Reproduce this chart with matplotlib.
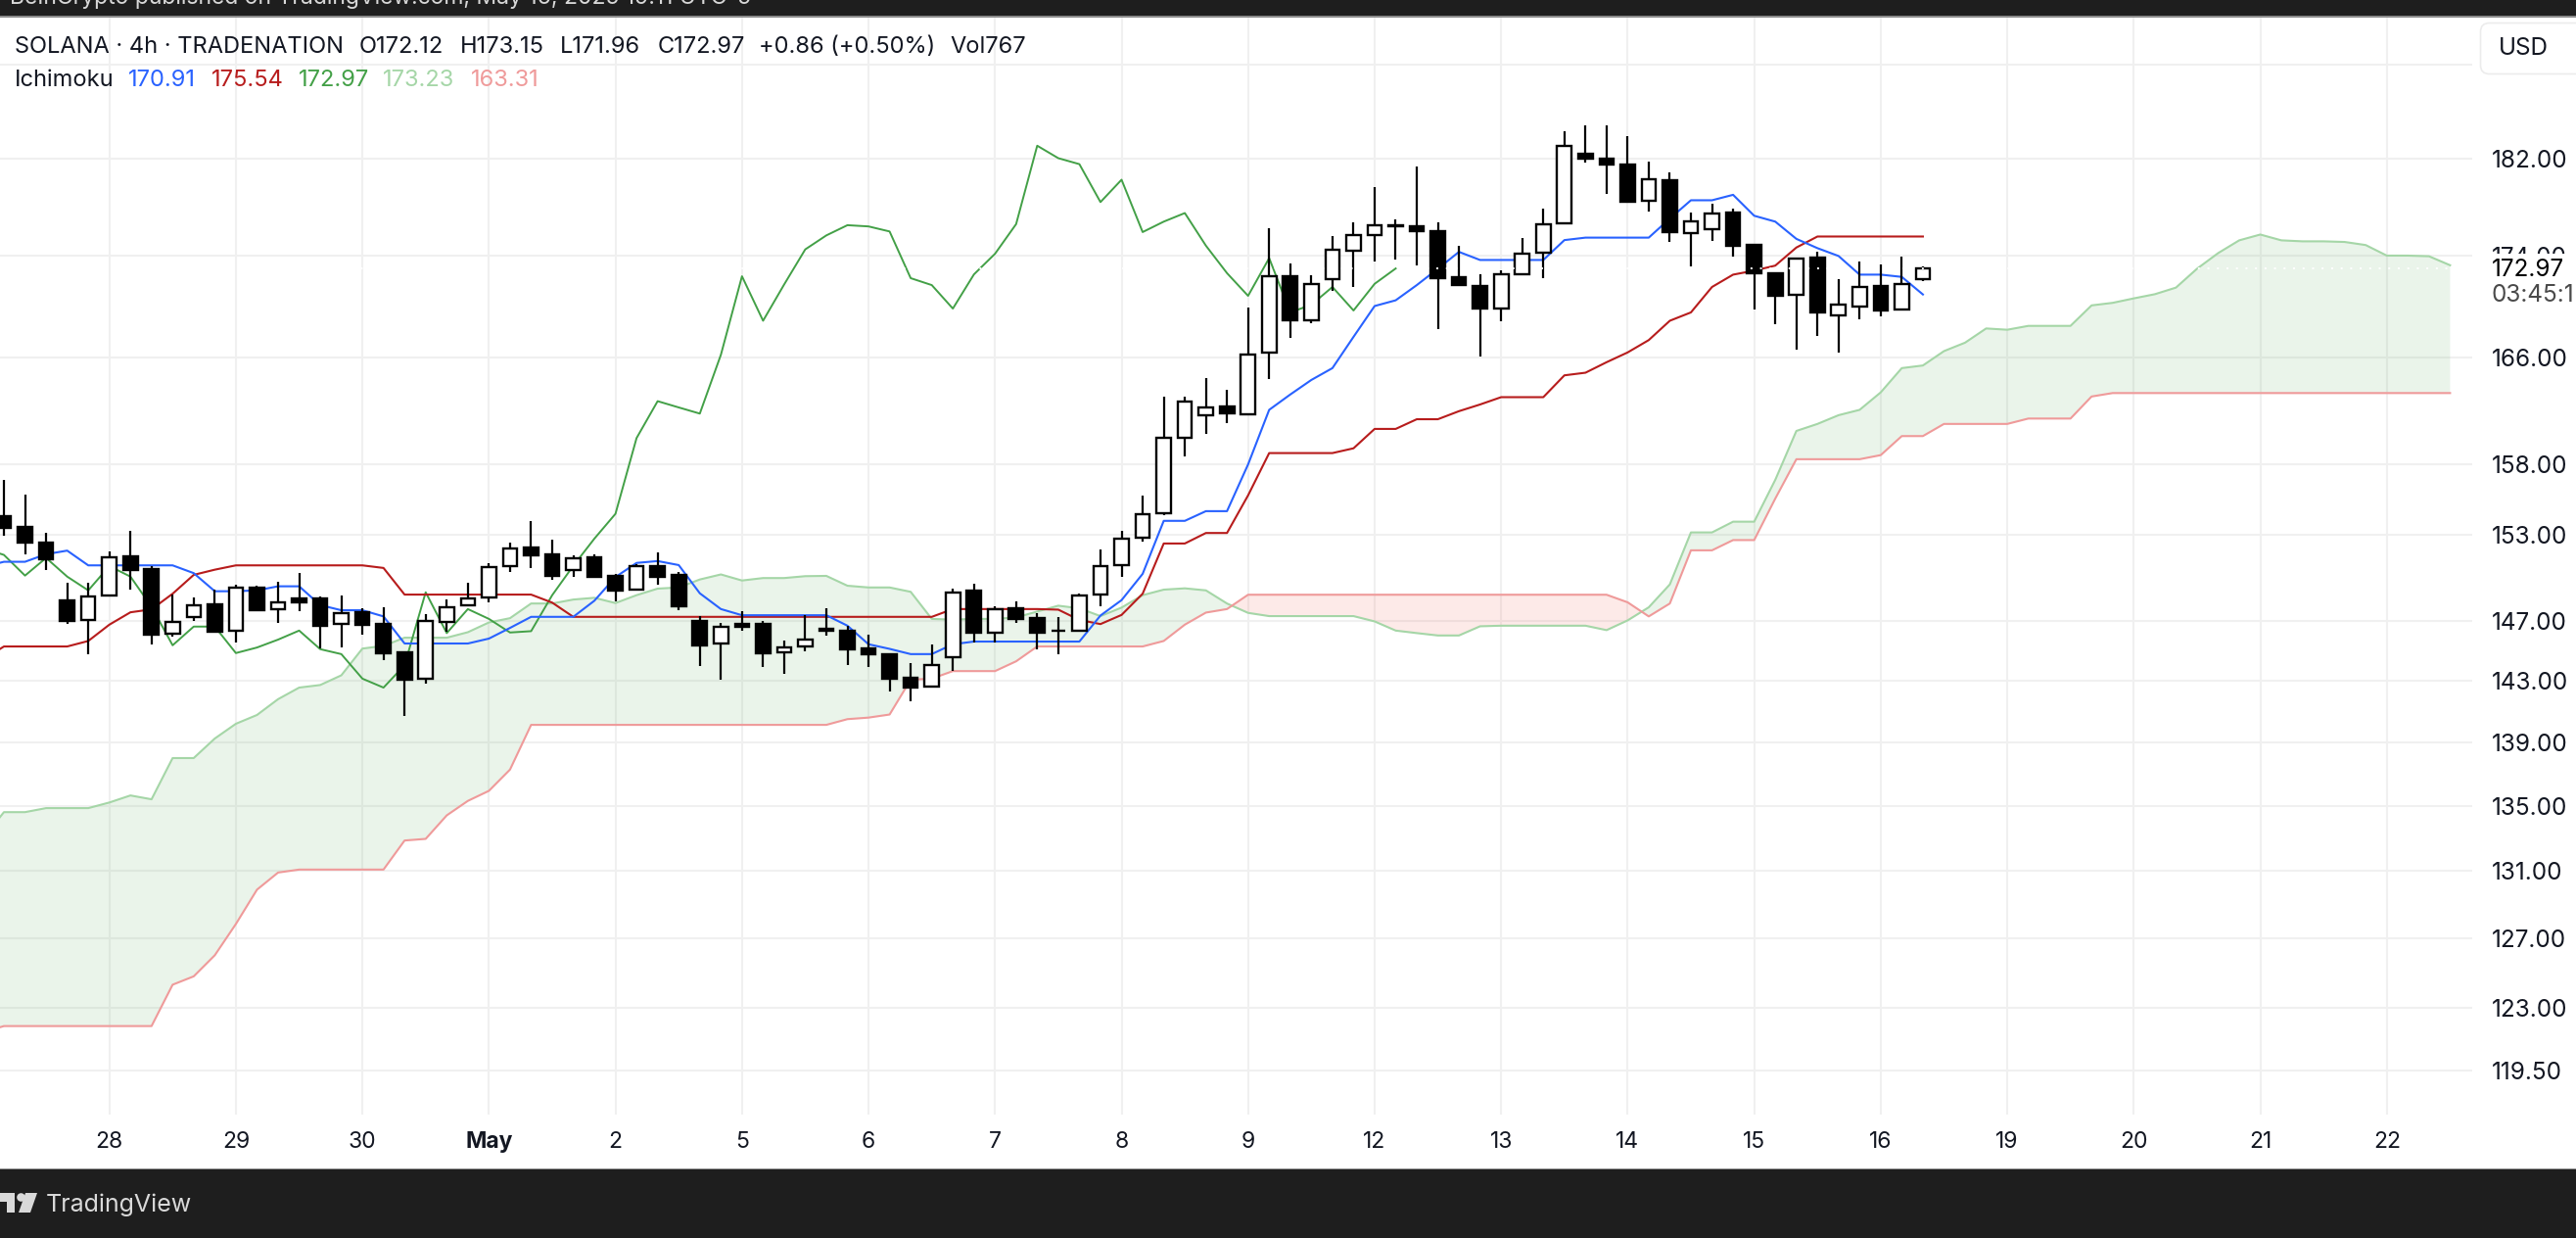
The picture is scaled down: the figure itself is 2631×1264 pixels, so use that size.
import numpy as np
import matplotlib
matplotlib.use("Agg")
import matplotlib.pyplot as plt
from matplotlib.patches import Rectangle, Polygon, Circle, FancyBboxPatch

plt.rcParams['font.family'] = ['Inter', 'DejaVu Sans']

# --- candles, first bar sits 5 bars left of the "28" label ---
opens = [154.31, 153.52, 152.41, 148.39, 147.05, 148.75, 151.45, 150.58, 146.12, 147.25, 148.12, 146.34, 149.27,
         147.78, 148.52, 148.52, 146.80, 147.60, 146.80, 144.87, 143.17, 146.94, 148.05, 148.59, 150.78, 152.07,
         151.59, 150.49, 151.38, 150.08, 149.15, 150.75, 150.17, 146.98, 145.48, 146.80, 146.80, 144.89, 145.29,
         146.45, 146.32, 145.13, 144.74, 143.20, 142.61, 144.56, 149.06, 146.21, 147.85, 147.18, 146.36, 146.32,
         148.81, 150.85, 152.80, 154.53, 160.00, 161.65, 162.28, 161.75, 166.35, 172.38, 168.90, 172.10, 174.43,
         175.69, 176.46, 176.34, 175.95, 172.30, 171.60, 169.80, 172.55, 174.20, 176.60, 182.35, 182.00, 181.50,
         178.45, 180.15, 175.85, 176.15, 177.50, 174.85, 172.60, 170.85, 173.85, 169.30, 169.95, 171.55, 169.75,
         172.12]
highs = [156.89, 155.83, 153.10, 149.61, 149.61, 151.79, 153.26, 150.80, 148.81, 148.59, 149.13, 149.47, 149.42,
         149.68, 150.29, 148.65, 148.73, 147.85, 147.94, 144.91, 147.47, 148.45, 149.61, 150.97, 152.41, 153.93,
         152.64, 151.52, 151.59, 150.22, 150.90, 151.73, 150.35, 147.32, 146.85, 147.65, 146.98, 145.66, 147.38,
         147.85, 146.65, 146.07, 144.74, 144.15, 145.40, 149.22, 149.54, 147.98, 148.33, 147.54, 147.25, 148.87,
         151.93, 153.24, 155.78, 163.04, 163.04, 164.47, 163.58, 169.90, 176.20, 173.35, 172.40, 175.55, 176.66,
         179.60, 176.95, 181.30, 176.70, 174.80, 172.55, 172.85, 175.45, 177.80, 184.30, 184.75, 184.75, 183.85,
         181.75, 180.85, 177.50, 178.20, 177.80, 174.90, 172.70, 173.80, 174.35, 172.10, 173.50, 173.30, 173.95,
         173.15]
lows = [152.92, 151.61, 150.53, 146.83, 144.78, 148.75, 149.17, 145.44, 145.95, 146.98, 146.21, 145.57, 147.69,
        146.89, 147.69, 145.15, 145.22, 146.10, 144.39, 140.73, 142.82, 146.28, 148.05, 148.30, 150.39, 150.67,
        149.85, 150.05, 150.05, 148.36, 149.15, 149.50, 147.76, 144.00, 143.05, 146.36, 143.91, 143.47, 144.98,
        146.03, 144.06, 143.93, 142.31, 141.67, 142.61, 143.67, 145.57, 145.57, 146.89, 145.11, 144.78, 146.32,
        148.02, 150.05, 152.52, 154.38, 158.57, 160.23, 161.03, 161.75, 164.35, 167.50, 168.65, 171.20, 171.47,
        173.50, 173.70, 173.20, 168.20, 171.60, 166.10, 168.80, 172.40, 172.20, 176.60, 181.65, 179.05, 178.35,
        177.60, 175.10, 173.10, 175.15, 173.95, 169.70, 168.60, 166.65, 167.70, 166.40, 169.00, 169.20, 169.75,
        171.96]
closes = [153.47, 152.45, 151.26, 147.03, 148.70, 151.42, 150.53, 146.10, 146.96, 148.09, 146.28, 149.31, 147.74,
          148.30, 148.30, 146.69, 147.56, 146.76, 144.85, 143.08, 147.03, 147.96, 148.56, 150.74, 152.04, 151.56,
          150.12, 151.35, 150.05, 149.10, 150.78, 150.05, 147.98, 145.37, 146.63, 146.63, 144.85, 145.22, 145.75,
          146.36, 145.11, 144.78, 143.15, 142.56, 144.04, 148.97, 146.19, 147.82, 147.15, 146.23, 146.32, 148.77,
          150.80, 152.70, 154.46, 159.95, 162.70, 162.23, 161.77, 166.22, 172.35, 168.85, 171.70, 174.50, 175.63,
          176.46, 176.36, 175.95, 172.20, 171.65, 169.80, 172.50, 174.15, 176.55, 183.05, 182.00, 181.50, 178.35,
          180.20, 175.90, 176.75, 177.45, 174.80, 172.60, 170.80, 173.80, 169.50, 170.10, 171.50, 169.65, 171.75,
          172.97]

# --- ichimoku, all of them start one bar before the candles ---
conversion = [150.71, 151.08, 151.08, 151.61, 151.86, 150.83, 150.83, 150.83, 150.83, 150.83, 150.29, 149.04, 149.04,
              149.10, 149.38, 149.38, 148.09, 147.74, 147.74, 147.32, 145.49, 145.49, 145.49, 145.49, 145.82, 146.54,
              147.29, 147.29, 147.29, 148.39, 150.02, 151.00, 151.13, 150.85, 148.90, 147.82, 147.40, 147.40, 147.40,
              147.40, 147.40, 146.69, 145.44, 145.13, 144.78, 144.78, 145.44, 145.62, 145.62, 145.62, 145.62, 145.62,
              145.62, 147.38, 148.43, 150.24, 153.96, 153.96, 154.65, 154.65, 158.02, 162.05, 163.20, 164.30, 165.20,
              167.60, 170.00, 170.45, 171.65, 172.95, 174.30, 173.65, 173.65, 173.65, 173.65, 175.25, 175.45, 175.45,
              175.45, 175.45, 177.00, 178.50, 178.50, 178.95, 177.23, 176.75, 175.35, 174.60, 173.97, 172.48, 172.48,
              172.30, 170.91]
base = [144.40, 145.29, 145.29, 145.29, 145.29, 145.66, 146.76, 147.60, 147.80, 148.87, 150.17, 150.53, 150.83,
        150.83, 150.83, 150.83, 150.83, 150.83, 150.83, 150.65, 148.81, 148.81, 148.81, 148.81, 148.81, 148.81,
        148.81, 148.26, 147.29, 147.29, 147.29, 147.29, 147.29, 147.29, 147.29, 147.29, 147.29, 147.29, 147.29,
        147.29, 147.29, 147.29, 147.29, 147.29, 147.29, 147.29, 147.82, 147.82, 147.82, 147.82, 147.82, 147.78,
        147.08, 146.80, 147.42, 148.87, 152.36, 152.36, 153.10, 153.10, 155.78, 158.85, 158.85, 158.85, 158.85,
        159.20, 160.63, 160.63, 161.35, 161.35, 161.95, 162.45, 163.00, 163.00, 163.00, 164.65, 164.85, 165.65,
        166.40, 167.35, 168.85, 169.50, 171.50, 172.48, 172.80, 173.20, 174.65, 175.54, 175.54, 175.54, 175.54,
        175.54, 175.54]
lagging = [152.04, 151.56, 150.12, 151.35, 150.05, 149.10, 150.78, 150.05, 147.98, 145.37, 146.63, 146.63, 144.85,
           145.22, 145.75, 146.36, 145.11, 144.78, 143.15, 142.56, 144.04, 148.97, 146.19, 147.82, 147.15, 146.23,
           146.32, 148.77, 150.80, 152.70, 154.46, 159.95, 162.70, 162.23, 161.77, 166.22, 172.35, 168.85, 171.70,
           174.50, 175.63, 176.46, 176.36, 175.95, 172.20, 171.65, 169.80, 172.50, 174.15, 176.55, 183.05, 182.00,
           181.50, 178.35, 180.20, 175.90, 176.75, 177.45, 174.80, 172.60, 170.80, 173.80, 169.50, 170.10, 171.50,
           169.65, 171.75, 172.97]
span_a = [132.97, 134.60, 134.60, 134.85, 134.85, 134.85, 135.20, 135.64, 135.40, 138.00, 138.00, 139.25, 140.20,
          140.77, 141.80, 142.56, 142.73, 143.37, 145.15, 145.33, 145.88, 145.88, 145.88, 146.25, 146.91, 147.20,
          148.20, 148.20, 148.47, 148.59, 148.23, 148.77, 149.22, 149.30, 149.85, 150.20, 149.78, 149.95, 149.95,
          150.08, 150.10, 149.42, 149.30, 149.30, 149.00, 147.15, 147.10, 147.15, 147.15, 147.25, 147.65, 148.05,
          147.87, 147.34, 147.92, 148.77, 149.15, 149.24, 149.10, 148.20, 147.56, 147.34, 147.34, 147.34, 147.34,
          147.34, 146.98, 146.36, 146.19, 146.03, 146.03, 146.65, 146.69, 146.69, 146.69, 146.69, 146.69, 146.39,
          147.05, 147.94, 149.51, 153.14, 153.14, 153.90, 153.90, 156.90, 160.48, 161.00, 161.65, 162.05, 163.36,
          165.20, 165.40, 166.50, 167.15, 168.25, 168.15, 168.45, 168.45, 168.45, 170.05, 170.25, 170.60, 170.93,
          171.45, 172.95, 174.20, 175.23, 175.70, 175.23, 175.15, 175.15, 175.10, 174.85, 174.00, 174.00, 173.95,
          173.23]
span_b = [121.60, 121.95, 121.95, 121.95, 121.95, 121.95, 121.95, 121.95, 121.95, 124.30, 124.78, 126.00, 127.83,
          129.87, 130.90, 131.08, 131.08, 131.08, 131.08, 131.08, 132.85, 132.95, 134.40, 135.30, 135.93, 137.27,
          140.13, 140.13, 140.13, 140.13, 140.13, 140.13, 140.13, 140.13, 140.13, 140.13, 140.13, 140.13, 140.13,
          140.13, 140.13, 140.50, 140.60, 140.80, 143.08, 143.15, 143.65, 143.65, 143.65, 144.30, 145.29, 145.29,
          145.29, 145.29, 145.29, 145.29, 145.66, 146.76, 147.58, 147.82, 148.80, 148.80, 148.80, 148.80, 148.80,
          148.80, 148.80, 148.80, 148.80, 148.80, 148.80, 148.80, 148.80, 148.80, 148.80, 148.80, 148.80, 148.80,
          148.28, 147.32, 148.20, 151.88, 151.88, 152.60, 152.60, 155.55, 158.40, 158.40, 158.40, 158.40, 158.70,
          160.10, 160.10, 161.00, 161.00, 161.00, 161.00, 161.40, 161.40, 161.40, 163.05, 163.31, 163.31, 163.31,
          163.31, 163.31, 163.31, 163.31, 163.31, 163.31, 163.31, 163.31, 163.31, 163.31, 163.31, 163.31, 163.31,
          163.31]

price_ticks = [182.00, 174.00, 166.00, 158.00, 153.00, 147.00, 143.00, 139.00, 135.00, 131.00, 127.00, 123.00, 119.50]
day_labels = ['28', '29', '30', 'May', '2', '5', '6', '7', '8', '9', '12', '13', '14', '15', '16', '19', '20', '21', '22']
last_price = 172.97

INK = '#131722'
GRID = '#f0f0f0'

fig = plt.figure(figsize=(26.31, 12.64), dpi=100, facecolor='white')
ax = fig.add_axes([0, (1264 - 1138) / 1264, 2525 / 2631, (1138 - 17) / 1264])
ax.set_yscale('log')
ax.set_xlim(-5.186, 112.05)
ax.set_ylim(117.07, 194.28)
ax.patch.set_alpha(0)

# grid first, everything else goes over it
day_ticks = np.arange(len(day_labels)) * 6
ax.vlines(day_ticks, 117.07, 194.28, color=GRID, lw=1.5, zorder=0)
ax.hlines(price_ticks + [190.0], -6, 113, color=GRID, lw=1.5, zorder=0)

cloud_x = np.arange(-6, -6 + len(span_a))
a = np.array(span_a)
b = np.array(span_b)
ax.fill_between(cloud_x, a, b, where=a >= b, interpolate=True, color='#43a047', alpha=0.11, lw=0, zorder=1)
ax.fill_between(cloud_x, a, b, where=a <= b, interpolate=True, color='#f44336', alpha=0.11, lw=0, zorder=1)
ax.plot(cloud_x, span_a, color='#a5d6a7', lw=1.5, zorder=2)
ax.plot(cloud_x, span_b, color='#ef9a9a', lw=1.5, zorder=2)
ax.plot(np.arange(-6, -6 + len(lagging)), lagging, color='#43a047', lw=1.4, zorder=2)
ax.plot(np.arange(-6, -6 + len(base)), base, color='#b71c1c', lw=1.5, zorder=2)
ax.plot(np.arange(-6, -6 + len(conversion)), conversion, color='#2962ff', lw=1.5, zorder=2)

# candles
candle_x = np.arange(-5, -5 + len(opens))
o = np.array(opens)
c = np.array(closes)
ax.vlines(candle_x, lows, highs, color='black', lw=1.6, zorder=3)
up = c >= o
ax.bar(candle_x[up], (c - o)[up], bottom=o[up], width=0.68, facecolor='white', edgecolor='black', lw=1.7, zorder=4)
ax.bar(candle_x[~up], (o - c)[~up], bottom=c[~up], width=0.68, facecolor='black', edgecolor='black', lw=1.7, zorder=4)

# white dotted last price line
ax.hlines(last_price, -6, 113, color='white', lw=1.4, linestyles=(0, (1, 4)), zorder=5)

# axes text
for s in ax.spines.values():
    s.set_visible(False)
ax.yaxis.tick_right()
ax.minorticks_off()
ax.set_yticks(price_ticks)
ax.set_yticklabels([f'{p:.2f}' for p in price_ticks])
ax.set_xticks(day_ticks)
ax.set_xticklabels(day_labels)
ax.get_xticklabels()[3].set_fontweight('bold')
ax.tick_params(axis='y', length=0, pad=14, labelsize=17.5, labelcolor=INK)
ax.tick_params(axis='x', length=0, pad=12, labelsize=16.5, labelcolor=INK)

# page furniture, in pixels
top = fig.add_axes([0, 0, 1, 1], zorder=5)
top.set_xlim(0, 2631)
top.set_ylim(1264, 0)
top.axis('off')

top.add_patch(Rectangle((0, 0), 2631, 16, color='#1e1e1e', lw=0))
top.add_patch(Rectangle((0, 16), 2631, 1.5, color='#8a8a8a', lw=0))
top.text(10, 4, 'BeInCrypto published on TradingView.com, May 16, 2025 19:11 UTC-5', color='#d8d8d8',
         fontsize=16.5, va='baseline', ha='left')
top.add_patch(Rectangle((0, 1193), 2631, 71, color='#1e1e1e', lw=0))
top.add_patch(Rectangle((0, 1192.5), 2631, 1.5, color='#8a8a8a', lw=0))

# tv logo
LOGO = '#d9d9d9'
top.add_patch(Polygon([(0, 1218), (15, 1218), (15, 1238), (7, 1238), (7, 1227), (0, 1227)], color=LOGO, lw=0))
top.add_patch(Circle((21.5, 1222.5), 4.3, color=LOGO, lw=0))
top.add_patch(Polygon([(26, 1218), (38, 1218), (31, 1238), (19, 1238)], color=LOGO, lw=0))
top.text(47, 1230, 'TradingView', color=LOGO, fontsize=18, va='center', ha='left')

# header rows
header = [(15, 'SOLANA · 4h · TRADENATION'), (367, 'O172.12'), (470, 'H173.15'), (572, 'L171.96'), (672, 'C172.97'),
          (775, '+0.86 (+0.50%)'), (970, 'Vol767')]
for hx, label in header:
    top.text(hx, 48, label, color=INK, fontsize=17, va='center', ha='left')
legend = [(15, 'Ichimoku', INK), (131, '170.91', '#2962ff'), (216, '175.54', '#b71c1c'), (305, '172.97', '#43a047'),
          (391, '173.23', '#a5d6a7'), (481, '163.31', '#ef9a9a')]
for lx, label, col in legend:
    top.text(lx, 82, label, color=col, fontsize=17, va='center', ha='left')

# USD box
top.add_patch(FancyBboxPatch((2533.5, 23.5), 130, 52, boxstyle='round,pad=0,rounding_size=9',
                             facecolor='white', edgecolor='#ececec', lw=1.2))
top.text(2552, 50, 'USD', color=INK, fontsize=17.5, va='center', ha='left')

# last price label sits over the 174 tick
top.add_patch(Rectangle((2530, 258.5), 101, 60, color='white', lw=0))
top.text(2545, 275, '172.97', color='black', fontsize=17.5, va='center', ha='left')
top.text(2545, 302, '03:45:1', color='#4a4a4a', fontsize=17.5, va='center', ha='left')

fig.savefig('out.png', dpi=100)
